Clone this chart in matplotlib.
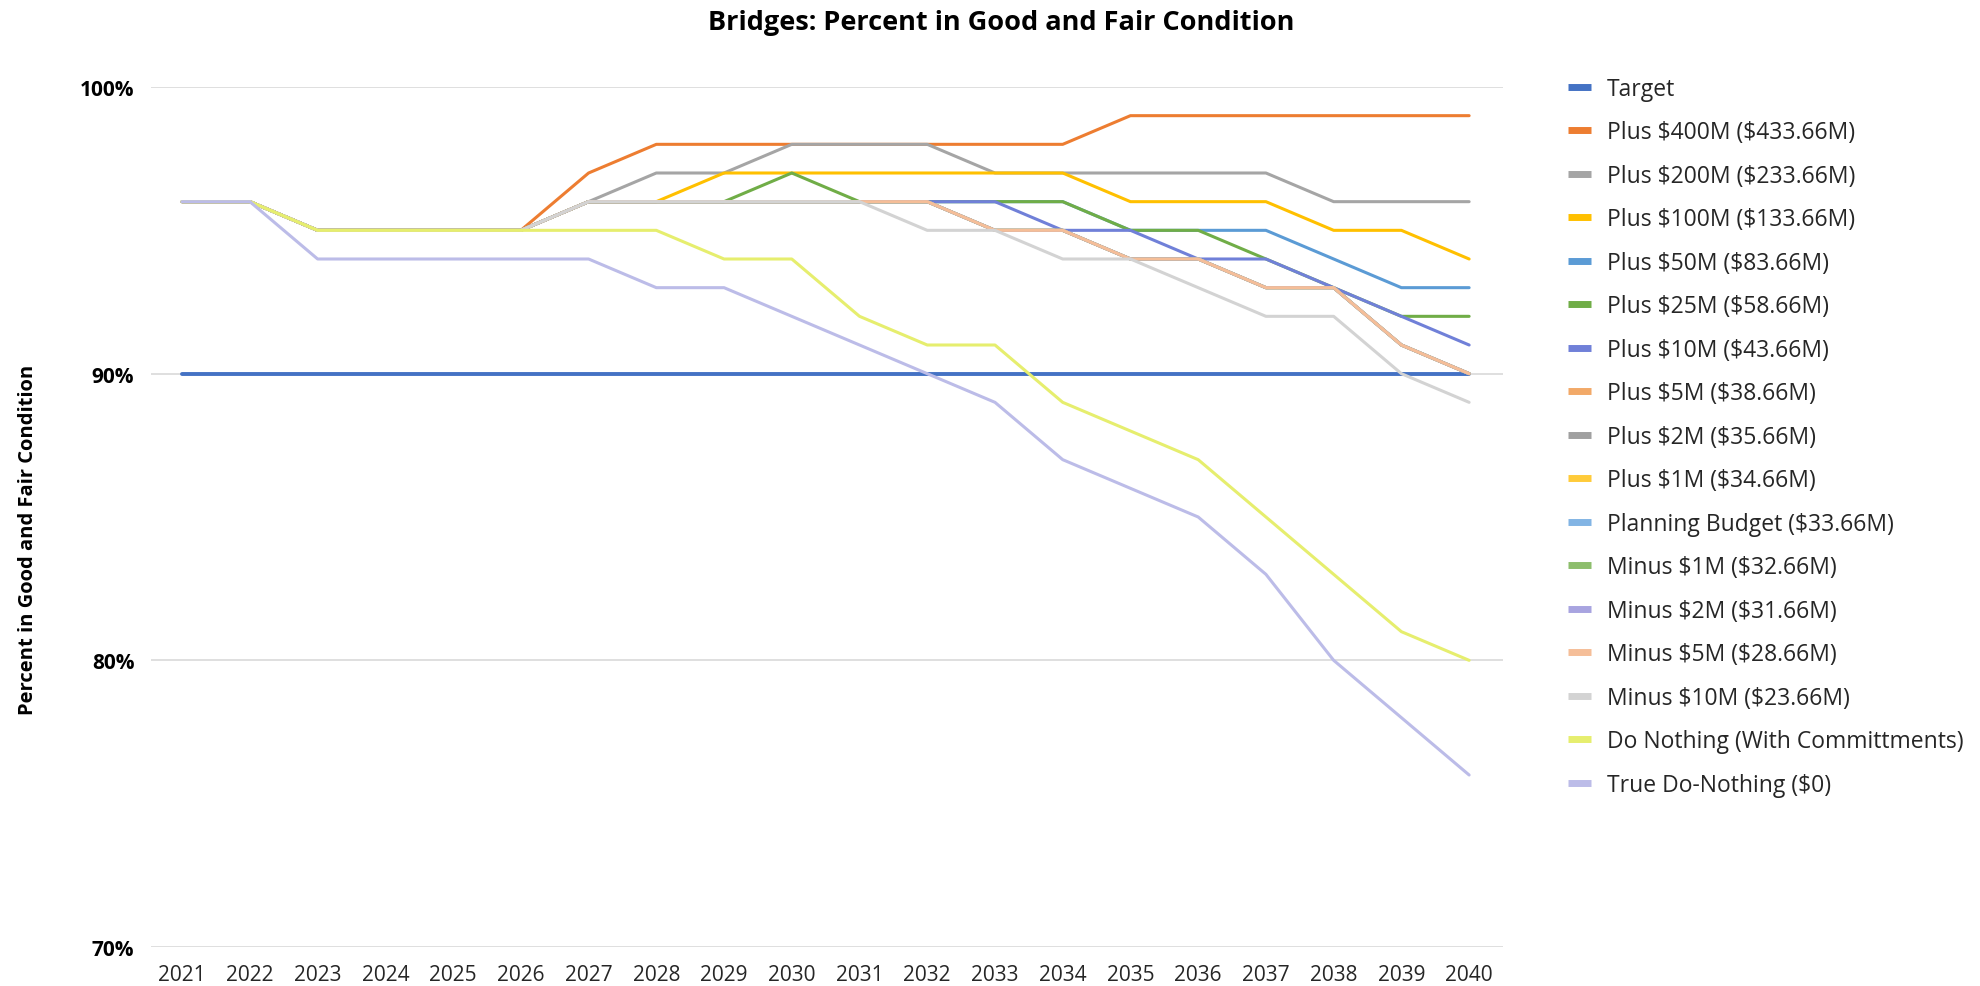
import matplotlib
matplotlib.use("Agg")
import matplotlib.pyplot as plt
from matplotlib.ticker import FuncFormatter

# Bridge condition forecasts (percent of bridges in good and fair condition)
years = [2021, 2022, 2023, 2024, 2025, 2026, 2027, 2028, 2029, 2030,
         2031, 2032, 2033, 2034, 2035, 2036, 2037, 2038, 2039, 2040]

target = [90] * 20
plus_400m = [96, 96, 95, 95, 95, 95, 97, 98, 98, 98, 98, 98, 98, 98, 99, 99, 99, 99, 99, 99]
plus_200m = [96, 96, 95, 95, 95, 95, 96, 97, 97, 98, 98, 98, 97, 97, 97, 97, 97, 96, 96, 96]
plus_100m = [96, 96, 95, 95, 95, 95, 96, 96, 97, 97, 97, 97, 97, 97, 96, 96, 96, 95, 95, 94]
plus_50m = [96, 96, 95, 95, 95, 95, 96, 96, 96, 96, 96, 96, 96, 96, 95, 95, 95, 94, 93, 93]
plus_25m = [96, 96, 95, 95, 95, 95, 96, 96, 96, 97, 96, 96, 96, 96, 95, 95, 94, 93, 92, 92]
plus_10m = [96, 96, 95, 95, 95, 95, 96, 96, 96, 96, 96, 96, 96, 95, 95, 94, 94, 93, 92, 91]
plus_5m = [96, 96, 95, 95, 95, 95, 96, 96, 96, 96, 96, 96, 95, 95, 94, 94, 93, 93, 91, 90]
plus_2m = [96, 96, 95, 95, 95, 95, 96, 96, 96, 96, 96, 96, 95, 95, 94, 94, 93, 93, 91, 90]
plus_1m = [96, 96, 95, 95, 95, 95, 96, 96, 96, 96, 96, 96, 95, 95, 94, 94, 93, 93, 91, 90]
planning = [96, 96, 95, 95, 95, 95, 96, 96, 96, 96, 96, 96, 95, 95, 94, 94, 93, 93, 91, 90]
minus_1m = [96, 96, 95, 95, 95, 95, 96, 96, 96, 96, 96, 96, 95, 95, 94, 94, 93, 93, 91, 90]
minus_2m = [96, 96, 95, 95, 95, 95, 96, 96, 96, 96, 96, 96, 95, 95, 94, 94, 93, 93, 91, 90]
minus_5m = [96, 96, 95, 95, 95, 95, 96, 96, 96, 96, 96, 96, 95, 95, 94, 94, 93, 93, 91, 90]
minus_10m = [96, 96, 95, 95, 95, 95, 96, 96, 96, 96, 96, 95, 95, 94, 94, 93, 92, 92, 90, 89]
do_nothing = [96, 96, 95, 95, 95, 95, 95, 95, 94, 94, 92, 91, 91, 89, 88, 87, 85, 83, 81, 80]
true_do_nothing = [96, 96, 94, 94, 94, 94, 94, 93, 93, 92, 91, 90, 89, 87, 86, 85, 83, 80, 78, 76]

labels = ["Target", "Plus $400M ($433.66M)", "Plus $200M ($233.66M)",
          "Plus $100M ($133.66M)", "Plus $50M ($83.66M)", "Plus $25M ($58.66M)",
          "Plus $10M ($43.66M)", "Plus $5M ($38.66M)", "Plus $2M ($35.66M)",
          "Plus $1M ($34.66M)", "Planning Budget ($33.66M)", "Minus $1M ($32.66M)",
          "Minus $2M ($31.66M)", "Minus $5M ($28.66M)", "Minus $10M ($23.66M)",
          "Do Nothing (With Committments)", "True Do-Nothing ($0)"]

series = [target, plus_400m, plus_200m, plus_100m, plus_50m, plus_25m, plus_10m,
          plus_5m, plus_2m, plus_1m, planning, minus_1m, minus_2m, minus_5m,
          minus_10m, do_nothing, true_do_nothing]

colors = ["#4472C4", "#ED7D31", "#A5A5A5", "#FFC000", "#5B9BD5", "#70AD47",
          "#7080D8", "#F2A968", "#A0A0A0", "#FFCB3A", "#82B4E4", "#8DBE6C",
          "#A8A4E0", "#F5BE98", "#D3D3D3", "#E6EE6E", "#BCBCE8"]

plt.rcParams['font.family'] = ['Open Sans', 'DejaVu Sans']

fig = plt.figure(figsize=(19.8, 9.87), dpi=100)
ax = fig.add_axes([151 / 1980, 1 - 948 / 987, (1503 - 151) / 1980, (948 - 88) / 987])

for i, (vals, lab, col) in enumerate(zip(series, labels, colors)):
    lw = 2.8 if i == 0 else 2.2
    # escape the dollar signs so they are not read as mathtext
    ax.plot(years, vals, color=col, linewidth=lw, label=lab.replace("$", r"\$"),
            solid_capstyle='round')

ax.set_xlim(2020.54, 2040.5)
ax.set_ylim(70, 100)
ax.set_xticks(years)
ax.set_yticks([70, 80, 90, 100])
ax.yaxis.set_major_formatter(FuncFormatter(lambda v, p: f"{int(v)}%"))
ax.grid(axis='y', color='#D9D9D9', linewidth=1.2)
ax.set_axisbelow(True)
for s in ax.spines.values():
    s.set_visible(False)
ax.tick_params(axis='both', length=0)
ax.tick_params(axis='x', labelsize=15, pad=12, colors='#262626')
ax.tick_params(axis='y', labelsize=15, pad=12)
for t in ax.get_yticklabels():
    t.set_fontweight('bold')

ax.set_ylabel("Percent in Good and Fair Condition", fontsize=14.5, fontweight='bold')
ax.yaxis.set_label_coords((38 - 151) / 1352, (948 - 540) / 860)
fig.text(1001 / 1980, 1 - 23 / 987, "Bridges: Percent in Good and Fair Condition",
         fontsize=19.5, fontweight='bold', ha='center', va='center')

leg = fig.legend(loc='upper left', bbox_to_anchor=(1568 / 1980, 1 - 78 / 987), frameon=False,
                 fontsize=16.5, handlelength=1.0, handletextpad=0.7, labelspacing=0.85,
                 borderaxespad=0, borderpad=0)
for ln in leg.get_lines():
    ln.set_linewidth(5)
    ln.set_solid_capstyle('butt')
for t in leg.get_texts():
    t.set_color('#262626')

fig.savefig("out.png", dpi=100)
